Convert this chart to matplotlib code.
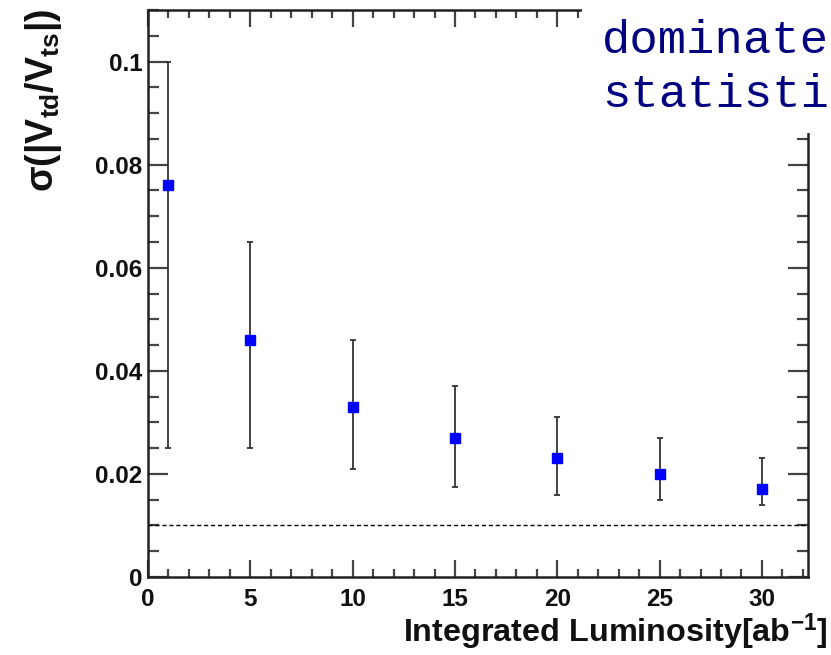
import matplotlib
matplotlib.use("Agg")
import matplotlib.pyplot as plt
from matplotlib.patches import Rectangle
from matplotlib.ticker import MultipleLocator, FixedFormatter, FixedLocator

lumi = [1, 5, 10, 15, 20, 25, 30]
sigma = [0.076, 0.046, 0.033, 0.027, 0.023, 0.020, 0.017]
err_low = [0.025, 0.025, 0.021, 0.0175, 0.016, 0.015, 0.014]
err_high = [0.100, 0.065, 0.046, 0.037, 0.031, 0.027, 0.023]
ref_level = 0.01
ytick_vals = [0, 0.02, 0.04, 0.06, 0.08, 0.1]
ytick_labels = ["0", "0.02", "0.04", "0.06", "0.08", "0.1"]
xtick_vals = [0, 5, 10, 15, 20, 25, 30]
xtick_labels = ["0", "5", "10", "15", "20", "25", "30"]
note_lines = ["dominate", "statisti"]

plt.rcParams['font.family'] = ['Liberation Sans', 'DejaVu Sans']
plt.rcParams['mathtext.fontset'] = 'custom'
plt.rcParams['mathtext.rm'] = 'Liberation Sans:bold'
plt.rcParams['mathtext.it'] = 'Liberation Sans:bold'
plt.rcParams['mathtext.bf'] = 'Liberation Sans:bold'

fig = plt.figure(figsize=(8.31, 6.55), dpi=100)
ax = fig.add_axes([148/831, 1-577/655, (808-148)/831, (577-10)/655])

yerr = [[s - lo for s, lo in zip(sigma, err_low)], [hi - s for s, hi in zip(sigma, err_high)]]
ax.errorbar(lumi, sigma, yerr=yerr, fmt='s', color='#0000ff', ms=7, mec='#0000ff',
            ecolor='#333333', elinewidth=1.3, capsize=2, capthick=1.3, zorder=3)
ax.axhline(ref_level, color='black', lw=1.0, ls=(0, (3, 2)))

ax.set_xlim(0, 32.25)
ax.set_ylim(0, 0.11)
ax.xaxis.set_major_locator(FixedLocator(xtick_vals))
ax.xaxis.set_major_formatter(FixedFormatter(xtick_labels))
ax.xaxis.set_minor_locator(MultipleLocator(1))
ax.yaxis.set_major_locator(FixedLocator(ytick_vals))
ax.yaxis.set_major_formatter(FixedFormatter(ytick_labels))
ax.yaxis.set_minor_locator(MultipleLocator(0.005))

ax.tick_params(which='both', direction='in', top=True, right=True, color='#444444',
               width=1.6, labelsize=17.5, labelcolor='#111111')
ax.tick_params(axis='y', which='major', length=14.5, pad=4)
ax.tick_params(axis='y', which='minor', length=8)
ax.tick_params(axis='x', which='major', length=12, pad=8)
ax.tick_params(axis='x', which='minor', length=6)
for lab in ax.get_xticklabels() + ax.get_yticklabels():
    lab.set_fontweight('bold')
for sp in ax.spines.values():
    sp.set_linewidth(1.8)
    sp.set_color('#222222')

fig.text(828/831, 1-642/655, r'Integrated Luminosity[ab$^{-1}$]', ha='right', va='baseline',
         fontsize=23.3, fontweight='bold', color='#111111')
fig.text(44/831, 1-9/655, r'$\sigma$(|V$_{td}$/V$_{ts}$|)', rotation=90, ha='center', va='top',
         fontsize=27, fontweight='bold', color='#111111')

rect = Rectangle((582/831, 1-133/655), 1-582/831, 133/655, transform=fig.transFigure,
                 facecolor='white', edgecolor='none', zorder=5)
fig.patches.append(rect)
fig.text(602/831, 1-53/655, note_lines[0], fontfamily='Liberation Mono', fontsize=34,
         color='#000080', ha='left', va='baseline', zorder=6)
fig.text(602/831, 1-107/655, note_lines[1], fontfamily='Liberation Mono', fontsize=34,
         color='#000080', ha='left', va='baseline', zorder=6)

fig.savefig('out.png', dpi=100)
